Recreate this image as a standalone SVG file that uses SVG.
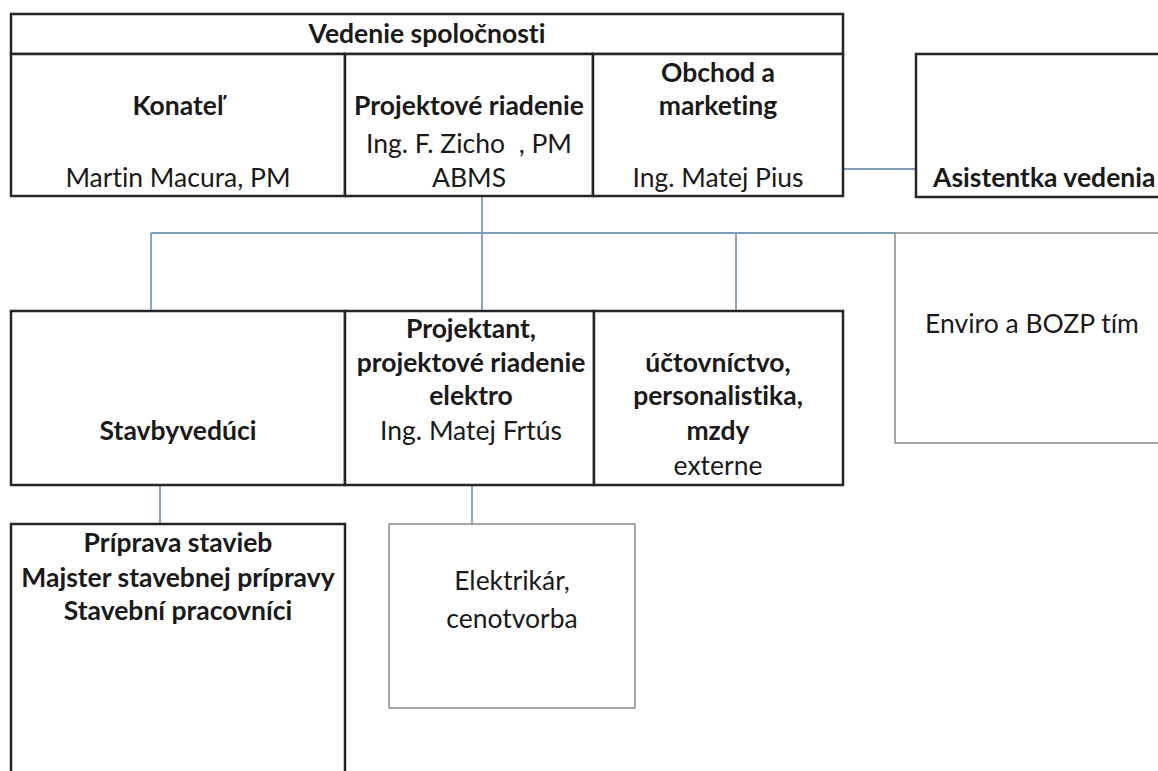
<svg xmlns="http://www.w3.org/2000/svg" width="1158" height="771" viewBox="0 0 1158 771">
<style>
.t{font-family:Lato,"Liberation Sans",sans-serif;font-size:26.5px;fill:#1a1a1a;text-anchor:middle;font-variant-ligatures:none}
.b{font-weight:bold}
.box{fill:#fff;stroke:#262626;stroke-width:2.5}
.thin{fill:#fff;stroke:#8a8a8a;stroke-width:1.5}
.c{fill:none;stroke:#7f9cbc;stroke-width:1.8}
</style>
<rect width="1158" height="771" fill="#fff"/>
<g id="connectors">
<line class="c" x1="843" y1="169" x2="916" y2="169"/>
<line class="c" x1="482" y1="196" x2="482" y2="233"/>
<line class="c" x1="151" y1="233" x2="895" y2="233"/>
<line class="c" x1="151" y1="233" x2="151" y2="311"/>
<line class="c" x1="482" y1="233" x2="482" y2="311"/>
<line class="c" x1="736" y1="233" x2="736" y2="311"/>
<line class="c" x1="160" y1="485" x2="160" y2="524"/>
<line class="c" x1="472" y1="485" x2="472" y2="524"/>
</g>
<g id="vedenie">
<rect class="box" x="11" y="14" width="832" height="40"/>
<text class="t b" x="427" y="43">Vedenie spoločnosti</text>
</g>
<g id="konatel">
<rect class="box" x="11" y="54" width="334" height="142"/>
<text class="t b" x="178" y="115">Konateľ</text>
<text class="t" x="178" y="187">Martin Macura, PM</text>
</g>
<g id="projektove-riadenie">
<rect class="box" x="345" y="54" width="248" height="142"/>
<text class="t b" x="469" y="115">Projektové riadenie</text>
<text class="t" x="469" y="153" xml:space="preserve">Ing. F. Zicho  , PM</text>
<text class="t" x="469" y="187">ABMS</text>
</g>
<g id="obchod">
<rect class="box" x="593" y="54" width="250" height="142"/>
<text class="t b" x="718" y="82">Obchod a</text>
<text class="t b" x="718" y="115">marketing</text>
<text class="t" x="718" y="187">Ing. Matej Pius</text>
</g>
<g id="asistentka">
<rect class="box" x="916" y="54" width="260" height="143"/>
<text class="t b" x="933" y="187" style="text-anchor:start">Asistentka vedenia</text>
</g>
<g id="stavbyveduci">
<rect class="box" x="11" y="311" width="334" height="174"/>
<text class="t b" x="178" y="440">Stavbyvedúci</text>
</g>
<g id="projektant">
<rect class="box" x="345" y="311" width="249" height="174"/>
<text class="t b" x="471" y="338">Projektant,</text>
<text class="t b" x="471" y="372">projektové riadenie</text>
<text class="t b" x="471" y="405">elektro</text>
<text class="t" x="471" y="440">Ing. Matej Frtús</text>
</g>
<g id="uctovnictvo">
<rect class="box" x="594" y="311" width="249" height="174"/>
<text class="t b" x="718" y="372">účtovníctvo,</text>
<text class="t b" x="718" y="405">personalistika,</text>
<text class="t b" x="718" y="440">mzdy</text>
<text class="t" x="718" y="475">externe</text>
</g>
<g id="enviro">
<rect class="thin" x="895" y="233" width="280" height="210"/>
<text class="t" x="1032" y="333">Enviro a BOZP tím</text>
</g>
<g id="priprava">
<rect class="box" x="11" y="524" width="334" height="260"/>
<text class="t b" x="178" y="552">Príprava stavieb</text>
<text class="t b" x="178" y="587">Majster stavebnej prípravy</text>
<text class="t b" x="178" y="620">Stavební pracovníci</text>
</g>
<g id="elektrikar">
<rect class="thin" x="389" y="524" width="246" height="184"/>
<text class="t" x="512" y="590">Elektrikár,</text>
<text class="t" x="512" y="628">cenotvorba</text>
</g>
</svg>
